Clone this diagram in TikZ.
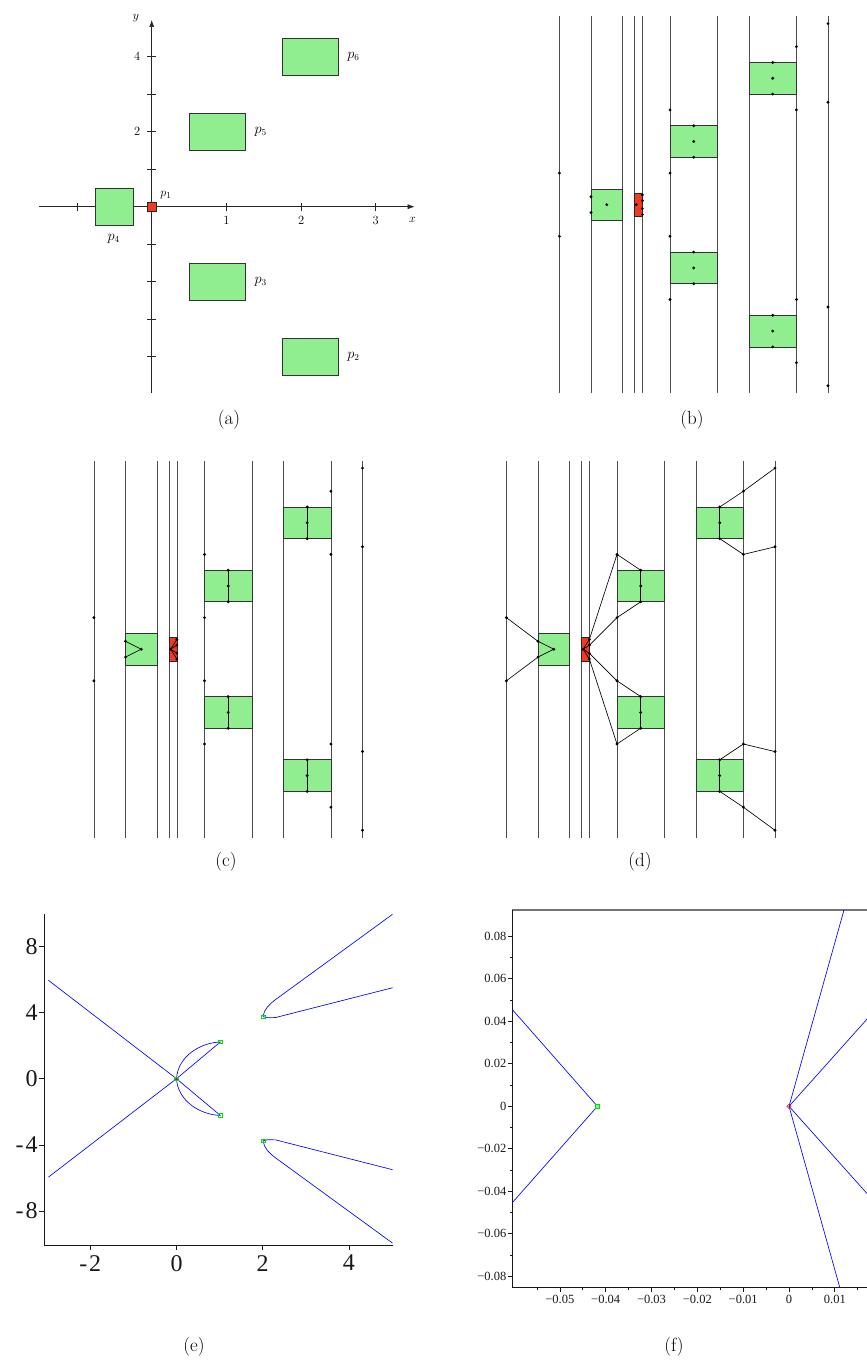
\documentclass[tikz,border=0pt]{standalone}
\usepackage{fontspec}
\newfontfamily\plotfont{Liberation Serif}
\usetikzlibrary{arrows.meta,shapes.geometric}
\definecolor{boxgreen}{RGB}{144,238,144}
\definecolor{boxred}{RGB}{240,58,36}
\definecolor{plotblue}{RGB}{0,0,255}
\definecolor{mkgreen}{RGB}{0,225,0}
\tikzset{
 vline/.style={black!70, line width=0.7pt},
 gbox/.style={fill=boxgreen, draw=black!80, line width=0.65pt},
 rbox/.style={fill=boxred, draw=black!85, line width=0.6pt},
 cdot/.style={circle, fill=black, inner sep=0pt, minimum size=3.2pt},
 cedge/.style={black, line width=0.65pt},
 axline/.style={black!85, line width=0.65pt},
 lab/.style={font=\fontsize{12.5}{14}\selectfont, inner sep=0pt},
 plab/.style={font=\fontsize{13.5}{15}\selectfont, inner sep=0pt},
 captext/.style={font=\fontsize{19}{21}\selectfont, inner sep=0pt},
 paxis/.style={black!90, line width=0.7pt},
 bcurve/.style={plotblue, line width=0.65pt},
 gsq/.style={rectangle, draw=mkgreen, line width=0.6pt, minimum size=3.6pt, inner sep=0pt},
 rdia/.style={diamond, draw=red, line width=0.6pt, minimum size=4.5pt, inner sep=0pt},
 elab/.style={font=\plotfont\fontsize{24}{26}\selectfont, inner sep=0pt},
 flab/.style={font=\plotfont\fontsize{12.5}{14}\selectfont, inner sep=0pt},
}
\newcommand{\cadbase}[1]{%
 \foreach \xx in {-1.25,-0.75,-0.25,-0.0625,0.0625,0.5,1.25,1.75,2.5,3}
   \draw[vline] (\xx,-5.97) -- (\xx,5.97);
 \draw[gbox] (-0.75,-0.5) rectangle (-0.25,0.5);
 \draw[gbox] (0.5,1.5) rectangle (1.25,2.5);
 \draw[gbox] (0.5,-2.5) rectangle (1.25,-1.5);
 \draw[gbox] (1.75,3.5) rectangle (2.5,4.5);
 \draw[gbox] (1.75,-4.5) rectangle (2.5,-3.5);
 \draw[rbox] (-0.0625,-0.375) rectangle (0.0625,0.375);
 \node[cdot] (#1La) at (-1.25,1) {};
 \node[cdot] (#1Lb) at (-1.25,-1) {};
 \node[cdot] (#1qa) at (-0.75,0.25) {};
 \node[cdot] (#1qb) at (-0.75,-0.25) {};
 \node[cdot] (#1cf) at (-0.5,0) {};
 \node[cdot] (#1co) at (-0.035,0) {};
 \node[cdot] (#1ra) at (0.0625,0.31) {};
 \node[cdot] (#1rb) at (0.0625,0.127) {};
 \node[cdot] (#1rc) at (0.0625,-0.127) {};
 \node[cdot] (#1rd) at (0.0625,-0.31) {};
 \node[cdot] (#1ma) at (0.5,3) {};
 \node[cdot] (#1mb) at (0.5,1) {};
 \node[cdot] (#1mc) at (0.5,-1) {};
 \node[cdot] (#1md) at (0.5,-3) {};
 \node[cdot] (#1ft) at (0.875,2.5) {};
 \node[cdot] (#1fc) at (0.875,2) {};
 \node[cdot] (#1fb) at (0.875,1.5) {};
 \node[cdot] (#1tt) at (0.875,-1.5) {};
 \node[cdot] (#1tc) at (0.875,-2) {};
 \node[cdot] (#1tb) at (0.875,-2.5) {};
 \node[cdot] (#1na) at (2.5,5) {};
 \node[cdot] (#1nb) at (2.5,3) {};
 \node[cdot] (#1nc) at (2.5,-3) {};
 \node[cdot] (#1nd) at (2.5,-5) {};
 \node[cdot] (#1st) at (2.125,4.5) {};
 \node[cdot] (#1sc) at (2.125,4) {};
 \node[cdot] (#1sb) at (2.125,3.5) {};
 \node[cdot] (#1wt) at (2.125,-3.5) {};
 \node[cdot] (#1wc) at (2.125,-4) {};
 \node[cdot] (#1wb) at (2.125,-4.5) {};
 \node[cdot] (#1ka) at (3,5.73) {};
 \node[cdot] (#1kb) at (3,3.24) {};
 \node[cdot] (#1kc) at (3,-3.24) {};
 \node[cdot] (#1kd) at (3,-5.73) {};
}
\newcommand{\cadedges}[1]{%
 \draw[cedge] (#1qa.center) -- (#1cf.center) -- (#1qb.center);
 \draw[cedge] (#1co.center) -- (#1ra.center);
 \draw[cedge] (#1co.center) -- (#1rb.center);
 \draw[cedge] (#1co.center) -- (#1rc.center);
 \draw[cedge] (#1co.center) -- (#1rd.center);
 \draw[cedge] (#1ft.center) -- (#1fc.center) -- (#1fb.center);
 \draw[cedge] (#1tt.center) -- (#1tc.center) -- (#1tb.center);
 \draw[cedge] (#1st.center) -- (#1sc.center) -- (#1sb.center);
 \draw[cedge] (#1wt.center) -- (#1wc.center) -- (#1wb.center);
}
\begin{document}
\begin{tikzpicture}[x=1pt,y=-1pt]
\fill[white] (0,0) rectangle (867,1360);
\useasboundingbox (0,0) rectangle (867,1360);

% ---------------- (a)
\begin{scope}[shift={(151.7,206.7)}, x=74.7pt, y=37.5pt]
 \draw[axline, -{Latex[length=7pt,width=5pt]}] (-1.51,0) -- (3.52,0);
 \draw[axline, -{Latex[length=7pt,width=5pt]}] (0,-4.97) -- (0,4.98);
 \foreach \t in {-1,1,2,3} \draw[axline] (\t,0) ++(0,-4pt) -- ++(0,8pt);
 \foreach \t in {-4,-3,-2,-1,1,2,3,4} \draw[axline] (0,\t) ++(-4.5pt,0) -- ++(9pt,0);
 \node[lab] (ta1) at (1,-0.355) {1};
 \node[lab] (ta2) at (2,-0.355) {2};
 \node[lab] (ta3) at (3,-0.355) {3};
 \node[lab] (tax) at (3.49,-0.355) {$x$};
 \node[lab] (tay) at (-0.21,5.03) {$y$};
 \node[lab] (ty4) at (-0.195,4) {4};
 \node[lab] (ty2) at (-0.195,2) {2};
 \draw[gbox] (1.75,3.5) rectangle (2.5,4.5);
 \draw[gbox] (0.5,1.5) rectangle (1.25,2.5);
 \draw[gbox] (0.5,-2.5) rectangle (1.25,-1.5);
 \draw[gbox] (1.75,-4.5) rectangle (2.5,-3.5);
 \draw[gbox] (-0.75,-0.5) rectangle (-0.25,0.5);
 \draw[rbox] (-0.0625,-0.12) rectangle (0.0625,0.12);
 \node[plab] (lp6) at (2.7,4) {$p_6$};
 \node[plab] (lp5) at (1.46,2) {$p_5$};
 \node[plab] (lp3) at (1.46,-2) {$p_3$};
 \node[plab] (lp2) at (2.7,-4) {$p_2$};
 \node[plab] (lp4) at (-0.51,-0.85) {$p_4$};
 \node[lab] (lp1) at (0.19,0.31) {$p_1$};
\end{scope}
\node[captext] (capa) at (229,420) {(a)};

% ---------------- (b)
\begin{scope}[shift={(638.4,204.7)}, x=63.2pt, y=31.6pt]
 \cadbase{b}
\end{scope}
\node[captext] (capb) at (692,420) {(b)};

% ---------------- (c)
\begin{scope}[shift={(172.9,649.2)}, x=63.2pt, y=31.6pt]
 \cadbase{c}
 \cadedges{c}
\end{scope}
\node[captext] (capc) at (226,862) {(c)};

% ---------------- (d)
\begin{scope}[shift={(585.4,649.2)}, x=63.2pt, y=31.6pt]
 \cadbase{d}
 \cadedges{d}
 \draw[cedge] (dLa.center) -- (dqa.center);
 \draw[cedge] (dLb.center) -- (dqb.center);
 \draw[cedge] (dra.center) -- (dma.center) -- (dft.center);
 \draw[cedge] (drb.center) -- (dmb.center) -- (dfb.center);
 \draw[cedge] (drc.center) -- (dmc.center) -- (dtt.center);
 \draw[cedge] (drd.center) -- (dmd.center) -- (dtb.center);
 \draw[cedge] (dst.center) -- (dna.center) -- (dka.center);
 \draw[cedge] (dsb.center) -- (dnb.center) -- (dkb.center);
 \draw[cedge] (dwt.center) -- (dnc.center) -- (dkc.center);
 \draw[cedge] (dwb.center) -- (dnd.center) -- (dkd.center);
\end{scope}
\node[captext] (capd) at (640,862) {(d)};

% ---------------- (e)
\begin{scope}[shift={(176.5,1078.7)}, x=43.12pt, y=16.54pt]
 \draw[paxis] (-3.06,9.94) -- (-3.06,-10.1) -- (5.01,-10.1);
 \foreach \t/\s in {8/8,4/4,0/0,-4/{-\kern2pt 4},-8/{-\kern2pt 8}}
   \draw[paxis] (-3.06,\t) -- ++(-5.5pt,0) node[elab, anchor=east, xshift=-1pt] {\s};
 \foreach \t/\s in {-2/{-\kern2pt 2},0/0,2/2,4/4}
   \draw[paxis] (\t,-10.1) -- ++(0,-4pt) node[elab, anchor=north, yshift=-5pt] {\s};
 \coordinate (eo) at (0,0);
 \coordinate (eg1) at (1.016,2.22);
 \coordinate (eg2) at (1.016,-2.22);
 \coordinate (es1) at (2.006,3.75);
 \coordinate (es2) at (2.006,-3.75);
 \draw[bcurve] (-2.97,5.95) -- (eo) -- (eg2);
 \draw[bcurve] (-2.97,-5.95) -- (eo) -- (eg1);
 \draw[bcurve] (eo) .. controls (0.03,1.35) and (0.55,2.18) .. (eg1);
 \draw[bcurve] (eo) .. controls (0.03,-1.35) and (0.55,-2.18) .. (eg2);
 \draw[bcurve] (es1) .. controls (2.03,4.2) and (2.15,4.5) .. (2.3,4.79) -- (5.01,9.94);
 \draw[bcurve] (es1) .. controls (2.1,3.68) .. (2.3,3.7) -- (5.01,5.5);
 \draw[bcurve] (es2) .. controls (2.03,-4.2) and (2.15,-4.5) .. (2.3,-4.79) -- (5.01,-9.94);
 \draw[bcurve] (es2) .. controls (2.1,-3.68) .. (2.3,-3.7) -- (5.01,-5.5);
 \node[rdia, minimum size=3pt] (eR) at (0.02,0) {};
 \node[gsq] (eO) at (eo) {};
 \node[gsq] (eG1) at (eg1) {};
 \node[gsq] (eG2) at (eg2) {};
 \node[gsq] (eS1) at (es1) {};
 \node[gsq] (eS2) at (es2) {};
\end{scope}
\node[captext] (cape) at (194,1347) {(e)};

% ---------------- (f)
\begin{scope}[shift={(789,1106.3)}, x=45.83pt, y=21.25pt]
 \draw[black!55, line width=1.2pt] (-6.04,9.24) -- (1.72,9.24);
 \draw[paxis] (-6.04,9.24) -- (-6.04,-8.54) -- (1.72,-8.54);
 \foreach \t/\s in {8/0.08,6/0.06,4/0.04,2/0.02,0/0,-2/−0.02,-4/−0.04,-6/−0.06,-8/−0.08}
   \draw[paxis] (-6.04,\t) -- ++(-4.5pt,0) node[flab, anchor=east, xshift=-1pt] {\s};
 \foreach \t in {7,5,3,1,-1,-3,-5,-7}
   \draw[paxis] (-6.04,\t) -- ++(-2.3pt,0);
 \foreach \t/\s in {-5/−0.05,-4/−0.04,-3/−0.03,-2/−0.02,-1/−0.01,0/0,1/0.01}
   \draw[paxis] (\t,-8.54) -- ++(0,-4.5pt) node[flab, anchor=north, yshift=-3pt] {\s};
 \foreach \t in {-5.5,-4.5,-3.5,-2.5,-1.5,-0.5,0.5,1.5}
   \draw[paxis] (\t,-8.54) -- ++(0,-2.3pt);
 \coordinate (fg) at (-4.18,0);
 \coordinate (fr) at (0,0);
 \draw[bcurve] (-6.04,4.56) -- (fg) -- (-6.04,-4.54);
 \draw[bcurve] (1.20,9.24) -- (fr) -- (1.11,-8.54);
 \draw[bcurve] (1.75,4.22) -- (fr) -- (1.75,-4.22);
 \node[gsq, minimum size=4.5pt, fill=mkgreen!45, line width=0.8pt] (fG) at (fg) {};
 \node[rdia] (fR) at (fr) {};
\end{scope}
\node[captext] (capf) at (674,1347) {(f)};
\end{tikzpicture}
\end{document}
